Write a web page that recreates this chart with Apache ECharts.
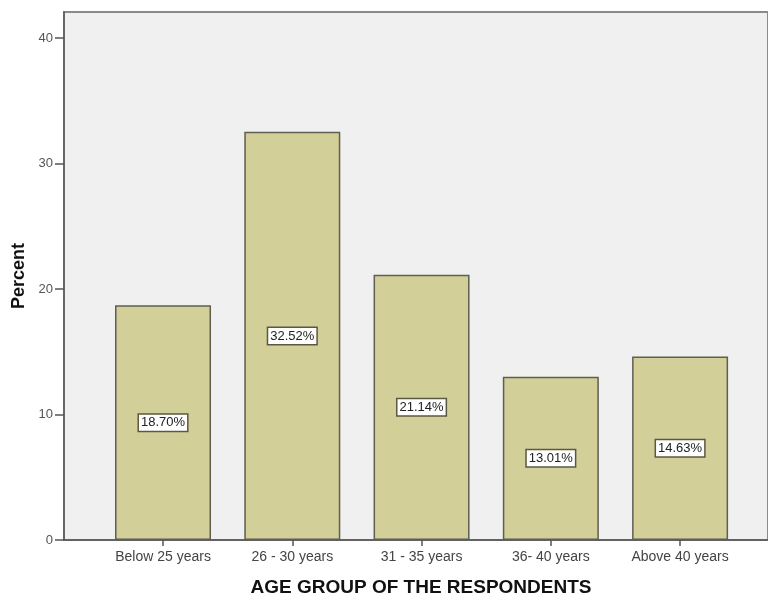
<!DOCTYPE html>
<html>
<head>
<meta charset="utf-8">
<script src="https://cdn.jsdelivr.net/npm/echarts@6/dist/echarts.min.js"></script>
<style>html,body{margin:0;padding:0;background:#fff;}#c{width:768px;height:596px;}</style>
</head>
<body>
<div id="c"></div>
<script>
const categories = ['Below 25 years', '26 - 30 years', '31 - 35 years', '36- 40 years', 'Above 40 years'];
const percents = [18.70, 32.52, 21.14, 13.01, 14.63];
const yTicks = [0, 10, 20, 30, 40];

const chart = echarts.init(document.getElementById('c'));
const font = '"Liberation Sans", Arial, sans-serif';
chart.setOption({
  animation: false,
  textStyle: { fontFamily: font },
  grid: {
    left: 64, right: 0, top: 12, bottom: 56,
    outerBoundsMode: 'none', containLabel: false,
    show: true, backgroundColor: '#f0f0f0', borderColor: '#8a8a8a', borderWidth: 2
  },
  xAxis: {
    type: 'value', min: -0.766, max: 4.68,
    name: 'AGE GROUP OF THE RESPONDENTS', nameLocation: 'middle', nameGap: 38,
    nameTextStyle: { fontFamily: font, fontSize: 19, fontWeight: 'bold', color: '#111', padding: [0, 0, 0, 10] },
    axisLine: { show: true, onZero: false, lineStyle: { color: '#555', width: 1.5 } },
    axisTick: { show: true, customValues: [0, 1, 2, 3, 4], length: 6, lineStyle: { color: '#555', width: 1.5 } },
    axisLabel: {
      customValues: [0, 1, 2, 3, 4], color: '#444', fontSize: 14, margin: 10,
      formatter: v => categories[Math.round(v)]
    },
    splitLine: { show: false }
  },
  yAxis: {
    type: 'value', min: 0, max: 42.07,
    name: 'Percent', nameLocation: 'middle', nameGap: 31,
    nameTextStyle: { fontFamily: font, fontSize: 18, fontWeight: 'bold', color: '#111' },
    axisLine: { show: true, onZero: false, lineStyle: { color: '#666', width: 2 } },
    axisTick: { show: true, customValues: yTicks, length: 9, lineStyle: { color: '#555', width: 1.5 } },
    axisLabel: { customValues: yTicks, color: '#555', fontSize: 13, margin: 11 },
    splitLine: { show: false }
  },
  series: [{
    type: 'bar',
    barWidth: 96,
    data: percents.map((v, i) => [i, v]),
    itemStyle: { color: '#d3cf98', borderColor: '#5e5e52', borderWidth: 1.5 },
    label: {
      show: true, position: 'inside',
      formatter: p => p.value[1].toFixed(2) + '%',
      fontFamily: font, fontSize: 13, color: '#222',
      backgroundColor: '#fff', borderColor: '#5a5840', borderWidth: 1.5,
      padding: [2, 2, 1, 2]
    }
  }]
});
</script>
</body>
</html>
